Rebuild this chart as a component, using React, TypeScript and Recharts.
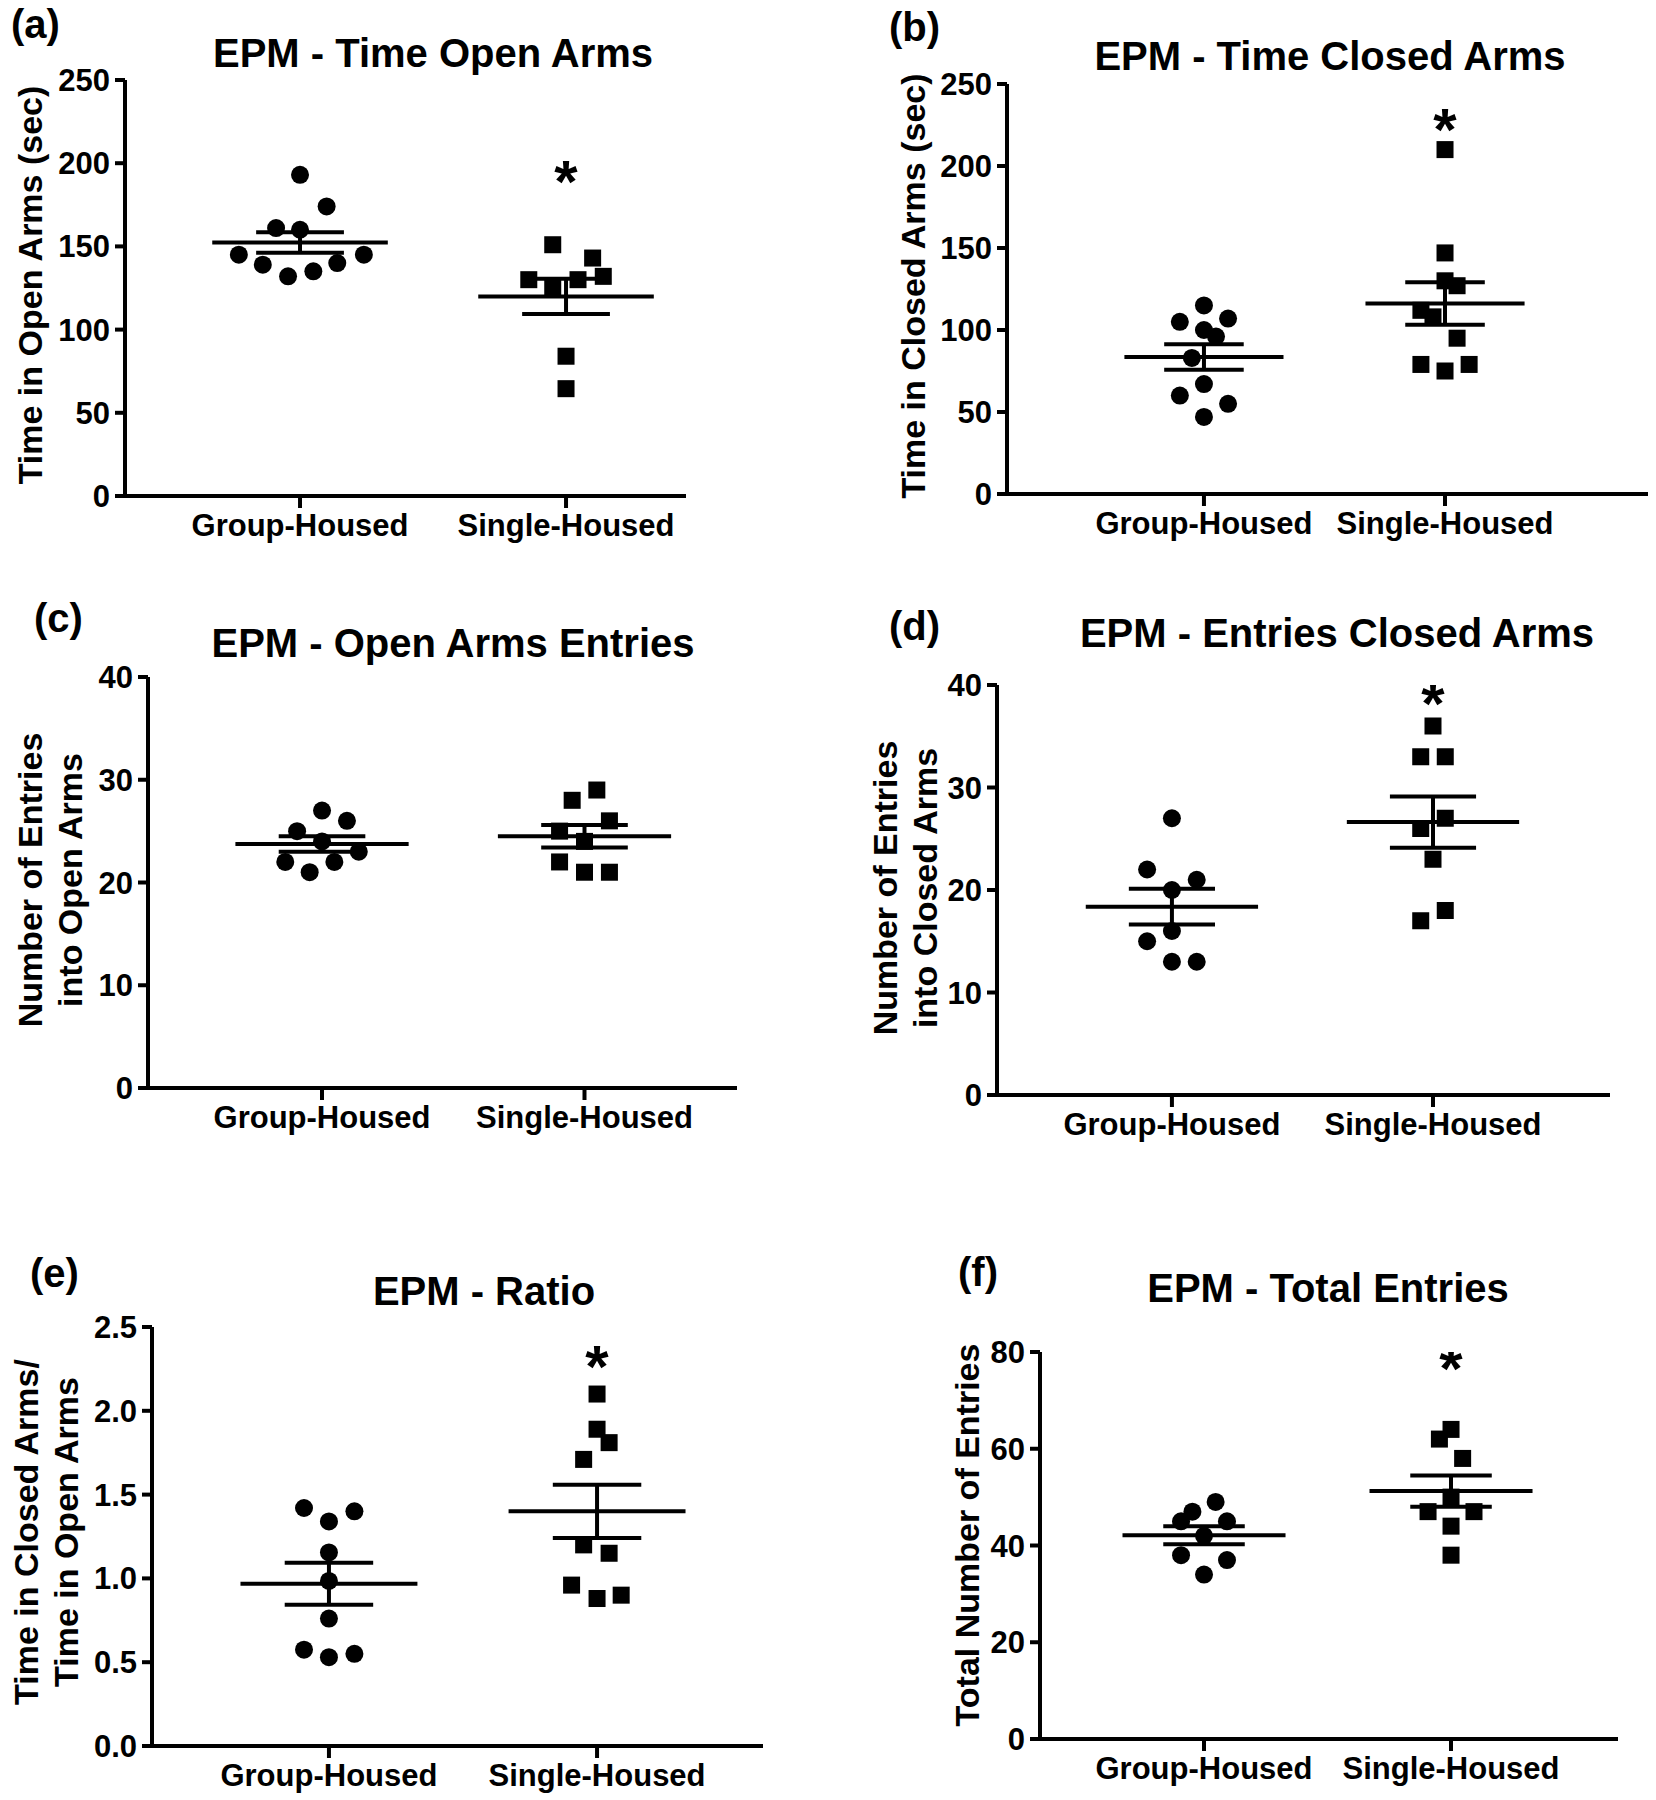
import React from 'react';
import { ScatterChart, Scatter, XAxis, YAxis, ReferenceLine } from 'recharts';

const FONT = '"Liberation Sans", Arial, Helvetica, sans-serif';

const categories = ['Group-Housed', 'Single-Housed'];

// (a) EPM - Time Open Arms (sec)
const openTimeGroup = [193, 174, 161, 160, 145, 145, 139, 140, 132, 135];
const openTimeGroupX = [0, 0.1, -0.09, 0, -0.23, 0.24, -0.14, 0.14, -0.045, 0.05];
const openTimeSingle = [151, 143, 132, 130, 130, 125, 84, 64.5];
const openTimeSingleX = [-0.05, 0.1, 0.14, -0.14, 0.045, -0.05, 0, 0];

// (b) EPM - Time Closed Arms (sec)
const closedTimeGroup = [115, 105, 107, 100, 96, 83, 67, 60, 55, 47];
const closedTimeGroupX = [0, -0.1, 0.1, 0, 0.05, -0.05, 0, -0.1, 0.1, 0];
const closedTimeSingle = [210, 147, 130, 127, 112, 108, 95, 79, 75, 79];
const closedTimeSingleX = [0, 0, 0, 0.05, -0.1, -0.05, 0.05, -0.1, 0, 0.1];

// (c) EPM - Open Arms Entries
const openEntriesGroup = [27, 26, 25, 24, 23, 22, 22, 21];
const openEntriesGroupX = [0, 0.095, -0.095, 0, 0.14, -0.14, 0.047, -0.047];
const openEntriesSingle = [29, 28, 26, 25, 24, 22, 21, 21];
const openEntriesSingleX = [0.047, -0.047, 0.095, -0.095, 0, -0.095, 0, 0.095];

// (d) EPM - Entries Closed Arms
const closedEntriesGroup = [27, 22, 21, 20, 16, 15, 13, 13];
const closedEntriesGroupX = [0, -0.095, 0.095, 0, 0, -0.095, 0, 0.095];
const closedEntriesSingle = [36, 33, 33, 27, 26, 23, 18, 17];
const closedEntriesSingleX = [0, -0.047, 0.047, 0.047, -0.047, 0, 0.047, -0.047];

// (e) EPM - Ratio
const ratioGroup = [1.42, 1.4, 1.34, 1.155, 0.985, 0.76, 0.575, 0.55, 0.53];
const ratioGroupX = [-0.093, 0.095, 0, 0, 0, 0, -0.093, 0.095, 0];
const ratioSingle = [2.1, 1.89, 1.81, 1.71, 1.2, 1.15, 0.96, 0.88, 0.9];
const ratioSingleX = [0, 0, 0.045, -0.05, -0.05, 0.045, -0.095, 0, 0.09];

// (f) EPM - Total Entries
const totalGroup = [49, 47, 45, 45, 42, 38, 37, 34];
const totalGroupX = [0.047, -0.047, -0.093, 0.093, 0, -0.093, 0.093, 0];
const totalSingle = [64, 62, 58, 50, 47, 47, 44, 38];
const totalSingleX = [0, -0.047, 0.047, 0, -0.093, 0.093, 0, 0];

const timeTicks = [0, 50, 100, 150, 200, 250];
const entryTicks = [0, 10, 20, 30, 40];
const ratioTicks = [0, 0.5, 1, 1.5, 2, 2.5];
const totalTicks = [0, 20, 40, 60, 80];

// significance marks (y value of the asterisk above Single-Housed)
const starValues = { a: 198, b: 231, c: null, d: 39.6, e: 2.35, f: 79.5 };

const mean = (arr: number[]) => arr.reduce((s, v) => s + v, 0) / arr.length;
const sem = (arr: number[]) => {
  const m = mean(arr);
  const v = arr.reduce((s, x) => s + (x - m) * (x - m), 0) / (arr.length - 1);
  return Math.sqrt(v / arr.length);
};

type Layout = {
  left: number;
  right: number;
  top: number;
  bottom: number;
  xDomain: [number, number];
  letter: [number, number];
  title: [number, number];
  yLabel: [number, number];
};

const layouts: Record<string, Layout> = {
  a: { left: 125, right: 686, top: 80, bottom: 496, xDomain: [0.342, 2.451], letter: [11, 24], title: [433, 53], yLabel: [30, 285] },
  b: { left: 1007, right: 1648, top: 84, bottom: 494, xDomain: [0.183, 2.842], letter: [889, 27], title: [1330, 56], yLabel: [913, 286] },
  c: { left: 148, right: 737, top: 677, bottom: 1088, xDomain: [0.337, 2.581], letter: [34, 618], title: [453, 643], yLabel: [50, 880] },
  d: { left: 997, right: 1610, top: 685, bottom: 1095, xDomain: [0.33, 2.678], letter: [889, 626], title: [1337, 633], yLabel: [905, 888] },
  e: { left: 152, right: 763, top: 1327, bottom: 1746, xDomain: [0.34, 2.619], letter: [30, 1273], title: [484, 1291], yLabel: [46, 1532] },
  f: { left: 1040, right: 1618, top: 1352, bottom: 1739, xDomain: [0.336, 2.676], letter: [958, 1272], title: [1328, 1288], yLabel: [967, 1535] },
};

const Circle = (p: any) => <circle cx={p.cx} cy={p.cy} r={9} fill="#000" />;
const Square = (p: any) => <rect x={p.cx - 8.5} y={p.cy - 8.5} width={17} height={17} fill="#000" />;
const Star = (p: any) => (
  <text x={p.cx} y={p.cy + 35} textAnchor="middle" fontSize={60} fontWeight={700} fontFamily={FONT} fill="#000">
    *
  </text>
);

interface PanelProps {
  id: string;
  title: string;
  yLabel: string[];
  group: number[];
  groupX: number[];
  single: number[];
  singleX: number[];
  ticks: number[];
  digits: number;
}

function Panel({ id, title, yLabel, group, groupX, single, singleX, ticks, digits }: PanelProps) {
  const lay = layouts[id];
  const YW = 80;
  const MT = 30;
  const MR = 6;
  const XH = 64;
  const chartLeft = lay.left - YW;
  const chartTop = lay.top - MT;
  const width = lay.right - chartLeft + MR;
  const height = lay.bottom - chartTop + XH;

  const groupData = group.map((v, i) => ({ x: 1 + groupX[i], y: v }));
  const singleData = single.map((v, i) => ({ x: 2 + singleX[i], y: v }));
  const star = (starValues as any)[id];

  const lines: React.ReactNode[] = [];
  [group, single].forEach((arr, i) => {
    const c = i + 1;
    const m = mean(arr);
    const s = sem(arr);
    const seg = (x1: number, y1: number, x2: number, y2: number, k: string) => (
      <ReferenceLine
        key={`${id}-${c}-${k}`}
        segment={[{ x: x1, y: y1 }, { x: x2, y: y2 }]}
        stroke="#000"
        strokeWidth={4}
      />
    );
    lines.push(seg(c - 0.33, m, c + 0.33, m, 'mean'));
    lines.push(seg(c - 0.165, m + s, c + 0.165, m + s, 'up'));
    lines.push(seg(c - 0.165, m - s, c + 0.165, m - s, 'lo'));
    lines.push(seg(c, m - s, c, m + s, 'v'));
  });

  return (
    <>
      <div
        style={{
          position: 'absolute',
          left: lay.letter[0],
          top: lay.letter[1],
          transform: 'translateY(-50%)',
          fontFamily: FONT,
          fontWeight: 700,
          fontSize: 40,
          lineHeight: 1,
          color: '#000',
        }}
      >
        ({id})
      </div>
      <div
        style={{
          position: 'absolute',
          left: lay.title[0],
          top: lay.title[1],
          transform: 'translate(-50%, -50%)',
          fontFamily: FONT,
          fontWeight: 700,
          fontSize: 40,
          lineHeight: 1,
          whiteSpace: 'nowrap',
          color: '#000',
        }}
      >
        {title}
      </div>
      <div
        style={{
          position: 'absolute',
          left: lay.yLabel[0],
          top: lay.yLabel[1],
          transform: 'translate(-50%, -50%) rotate(-90deg)',
          fontFamily: FONT,
          fontWeight: 700,
          fontSize: 34,
          lineHeight: '40px',
          whiteSpace: 'nowrap',
          textAlign: 'center',
          color: '#000',
        }}
      >
        {yLabel.map((l) => (
          <div key={l}>{l}</div>
        ))}
      </div>
      <div style={{ position: 'absolute', left: chartLeft, top: chartTop }}>
        <ScatterChart width={width} height={height} margin={{ top: MT, right: MR, bottom: 0, left: 0 }}>
          <XAxis
            type="number"
            dataKey="x"
            domain={lay.xDomain}
            ticks={[1, 2]}
            interval={0}
            allowDataOverflow
            height={XH}
            tickFormatter={(v: number) => categories[Math.round(v) - 1]}
            tick={{ fontSize: 31, fontWeight: 700, fill: '#000', fontFamily: FONT }}
            axisLine={{ stroke: '#000', strokeWidth: 4 }}
            tickLine={{ stroke: '#000', strokeWidth: 4 }}
            tickSize={12}
            tickMargin={6}
          />
          <YAxis
            type="number"
            dataKey="y"
            domain={[0, ticks[ticks.length - 1]]}
            ticks={ticks}
            interval={0}
            allowDataOverflow
            width={YW}
            tickFormatter={(v: number) => v.toFixed(digits)}
            tick={{ fontSize: 31, fontWeight: 700, fill: '#000', fontFamily: FONT }}
            axisLine={{ stroke: '#000', strokeWidth: 4 }}
            tickLine={{ stroke: '#000', strokeWidth: 4 }}
            tickSize={10}
            tickMargin={5}
          />
          {lines}
          <Scatter data={groupData} shape={Circle} isAnimationActive={false} />
          <Scatter data={singleData} shape={Square} isAnimationActive={false} />
          {star != null && <Scatter data={[{ x: 2, y: star }]} shape={Star} isAnimationActive={false} />}
        </ScatterChart>
      </div>
    </>
  );
}

export default function App() {
  return (
    <div
      style={{
        position: 'absolute',
        left: 0,
        top: 0,
        width: 1656,
        height: 1800,
        overflow: 'hidden',
        background: '#fff',
      }}
    >
      <Panel id="a" title="EPM - Time Open Arms" yLabel={['Time in Open Arms (sec)']} group={openTimeGroup} groupX={openTimeGroupX} single={openTimeSingle} singleX={openTimeSingleX} ticks={timeTicks} digits={0} />
      <Panel id="b" title="EPM - Time Closed Arms" yLabel={['Time in Closed Arms (sec)']} group={closedTimeGroup} groupX={closedTimeGroupX} single={closedTimeSingle} singleX={closedTimeSingleX} ticks={timeTicks} digits={0} />
      <Panel id="c" title="EPM - Open Arms Entries" yLabel={['Number of Entries', 'into Open Arms']} group={openEntriesGroup} groupX={openEntriesGroupX} single={openEntriesSingle} singleX={openEntriesSingleX} ticks={entryTicks} digits={0} />
      <Panel id="d" title="EPM - Entries Closed Arms" yLabel={['Number of Entries', 'into Closed Arms']} group={closedEntriesGroup} groupX={closedEntriesGroupX} single={closedEntriesSingle} singleX={closedEntriesSingleX} ticks={entryTicks} digits={0} />
      <Panel id="e" title="EPM - Ratio" yLabel={['Time in Closed Arms/', 'Time in Open Arms']} group={ratioGroup} groupX={ratioGroupX} single={ratioSingle} singleX={ratioSingleX} ticks={ratioTicks} digits={1} />
      <Panel id="f" title="EPM - Total Entries" yLabel={['Total Number of Entries']} group={totalGroup} groupX={totalGroupX} single={totalSingle} singleX={totalSingleX} ticks={totalTicks} digits={0} />
    </div>
  );
}
